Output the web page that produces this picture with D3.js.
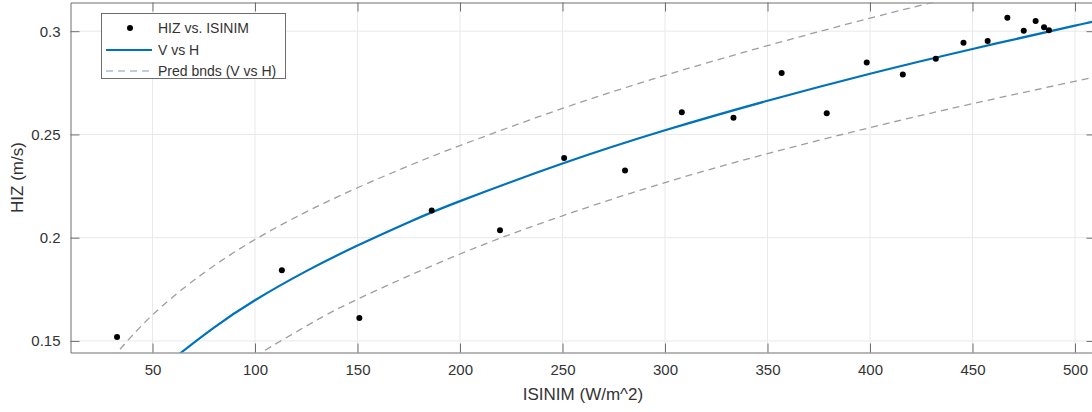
<!DOCTYPE html>
<html>
<head>
<meta charset="utf-8">
<script src="https://cdn.jsdelivr.net/npm/d3@7"></script>
<style>
  html, body { margin: 0; padding: 0; background: #fff; overflow: hidden; }
  svg { display: block; }
  text { font-family: "Liberation Sans", Arial, Helvetica, sans-serif; }
</style>
</head>
<body>
<svg id="chart" width="1092" height="412"></svg>
<script>
// ---- data ----
const obsX = [32.7, 113.1, 150.9, 186.2, 219.5, 250.8, 280.5, 308.2, 333.4, 356.9, 378.9, 398.4, 416.0, 432.1, 445.6, 457.4, 467.0, 475.0, 480.8, 484.9, 487.3];
const obsY = [0.1519, 0.1842, 0.1611, 0.2132, 0.2036, 0.2386, 0.2326, 0.2608, 0.2581, 0.2797, 0.2603, 0.2849, 0.2790, 0.2866, 0.2944, 0.2952, 0.3065, 0.3002, 0.3050, 0.3019, 0.3005];

const fitX = [60, 64, 80, 100, 125, 150, 175, 200, 250, 300, 350, 400, 450, 500, 512];
const fitY = [0.1411, 0.1444, 0.1565, 0.1697, 0.1838, 0.1962, 0.2075, 0.2177, 0.2359, 0.2520, 0.2663, 0.2794, 0.2914, 0.3027, 0.3053];

const upX = [30, 34, 50, 75, 100, 125, 150, 175, 200, 250, 300, 350, 400, 440];
const upY = [0.1420, 0.1458, 0.1626, 0.1829, 0.1991, 0.2125, 0.2242, 0.2348, 0.2446, 0.2626, 0.2786, 0.2930, 0.3063, 0.3163];

const loX = [100, 104.4, 125, 150, 200, 250, 300, 350, 400, 450, 512];
const loY = [0.1425, 0.1452, 0.1572, 0.1702, 0.1921, 0.2106, 0.2267, 0.2407, 0.2533, 0.2649, 0.2783];

const xTicks = [50, 100, 150, 200, 250, 300, 350, 400, 450, 500];
const yTicks = [0.15, 0.2, 0.25, 0.3];
const yTickLabels = ["0.15", "0.2", "0.25", "0.3"];

const legendLabels = ["HIZ vs. ISINIM", "V vs H", "Pred bnds (V vs H)"];
const xLabel = "ISINIM (W/m^2)";
const yLabel = "HIZ (m/s)";

// ---- layout ----
const svg = d3.select("#chart");
const L = 70.5, R = 1095.5, T = 2.5, B = 352.5;
const x = d3.scaleLinear().domain([10, 510]).range([L, R]);
const y = d3.scaleLinear().domain([0.1444, 0.3139]).range([B, T]);

const axisCol = "#6e6e6e";
const textCol = "#333";
const gridCol = "#e9e9e9";
const tickLen = 9;

svg.append("defs").append("clipPath").attr("id", "clip")
  .append("rect").attr("x", L).attr("y", T).attr("width", R - L).attr("height", B - T);

// grid
const g = svg.append("g");
g.selectAll(".gx").data(xTicks).enter().append("line")
  .attr("x1", d => x(d)).attr("x2", d => x(d)).attr("y1", T).attr("y2", B)
  .attr("stroke", gridCol).attr("stroke-width", 1);
g.selectAll(".gy").data(yTicks).enter().append("line")
  .attr("y1", d => y(d)).attr("y2", d => y(d)).attr("x1", L).attr("x2", R)
  .attr("stroke", gridCol).attr("stroke-width", 1);

// axes (inward ticks), box style
const xAxisB = d3.axisBottom(x).tickValues(xTicks).tickSizeInner(-tickLen).tickSizeOuter(0).tickPadding(12).tickFormat(d3.format("d"));
const xAxisT = d3.axisTop(x).tickValues(xTicks).tickSizeInner(-tickLen).tickSizeOuter(0).tickFormat("");
const yAxisL = d3.axisLeft(y).tickValues(yTicks).tickSizeInner(-tickLen).tickSizeOuter(0).tickPadding(10).tickFormat((d, i) => yTickLabels[i]);
const yAxisR = d3.axisRight(y).tickValues(yTicks).tickSizeInner(-tickLen).tickSizeOuter(0).tickFormat("");

function style(sel) {
  sel.selectAll("path").attr("stroke", axisCol).attr("stroke-width", 1);
  sel.selectAll("line").attr("stroke", axisCol).attr("stroke-width", 1);
  sel.selectAll("text").attr("fill", textCol).attr("font-size", 15)
     .attr("font-family", "'Liberation Sans', Arial, sans-serif");
}
svg.append("g").attr("transform", `translate(0,${B})`).call(xAxisB).call(style);
svg.append("g").attr("transform", `translate(0,${T})`).call(xAxisT).call(style);
svg.append("g").attr("transform", `translate(${L},0)`).call(yAxisL).call(style);
svg.append("g").attr("transform", `translate(${R},0)`).call(yAxisR).call(style);

// curves
const plot = svg.append("g").attr("clip-path", "url(#clip)");
const line = d3.line().x(d => x(d[0])).y(d => y(d[1])).curve(d3.curveNatural);

plot.append("path").datum(d3.zip(upX, upY)).attr("d", line)
  .attr("fill", "none").attr("stroke", "#9a9fa6").attr("stroke-width", 1.3).attr("stroke-dasharray", "7,5");
plot.append("path").datum(d3.zip(loX, loY)).attr("d", line)
  .attr("fill", "none").attr("stroke", "#9a9fa6").attr("stroke-width", 1.3).attr("stroke-dasharray", "7,5");
plot.append("path").datum(d3.zip(fitX, fitY)).attr("d", line)
  .attr("fill", "none").attr("stroke", "#0072BD").attr("stroke-width", 2.2);

plot.selectAll(".pt").data(d3.zip(obsX, obsY)).enter().append("circle")
  .attr("cx", d => x(d[0])).attr("cy", d => y(d[1])).attr("r", 3).attr("fill", "#000");

// axis labels
svg.append("text").attr("x", (L + R) / 2).attr("y", 400).attr("text-anchor", "middle")
  .attr("font-size", 17).attr("fill", textCol).text(xLabel);
svg.append("text").attr("transform", `translate(23,${(T + B) / 2}) rotate(-90)`)
  .attr("text-anchor", "middle").attr("font-size", 17).attr("fill", textCol).text(yLabel);

// legend
const lg = svg.append("g");
lg.append("rect").attr("x", 101.5).attr("y", 13.5).attr("width", 184).attr("height", 65)
  .attr("fill", "#fff").attr("stroke", axisCol).attr("stroke-width", 1);
const rowsY = [28, 50, 71];
lg.append("circle").attr("cx", 130).attr("cy", rowsY[0]).attr("r", 3).attr("fill", "#000");
lg.append("line").attr("x1", 106).attr("x2", 152).attr("y1", rowsY[1]).attr("y2", rowsY[1])
  .attr("stroke", "#0072BD").attr("stroke-width", 2.2);
lg.append("line").attr("x1", 106).attr("x2", 152).attr("y1", rowsY[2]).attr("y2", rowsY[2])
  .attr("stroke", "#a9bfd2").attr("stroke-width", 1.3).attr("stroke-dasharray", "7,5");
lg.selectAll(".lt").data(legendLabels).enter().append("text")
  .attr("x", 158).attr("y", (d, i) => rowsY[i]).attr("dy", "0.35em")
  .attr("font-size", 14).attr("fill", textCol).text(d => d);
</script>
</body>
</html>
